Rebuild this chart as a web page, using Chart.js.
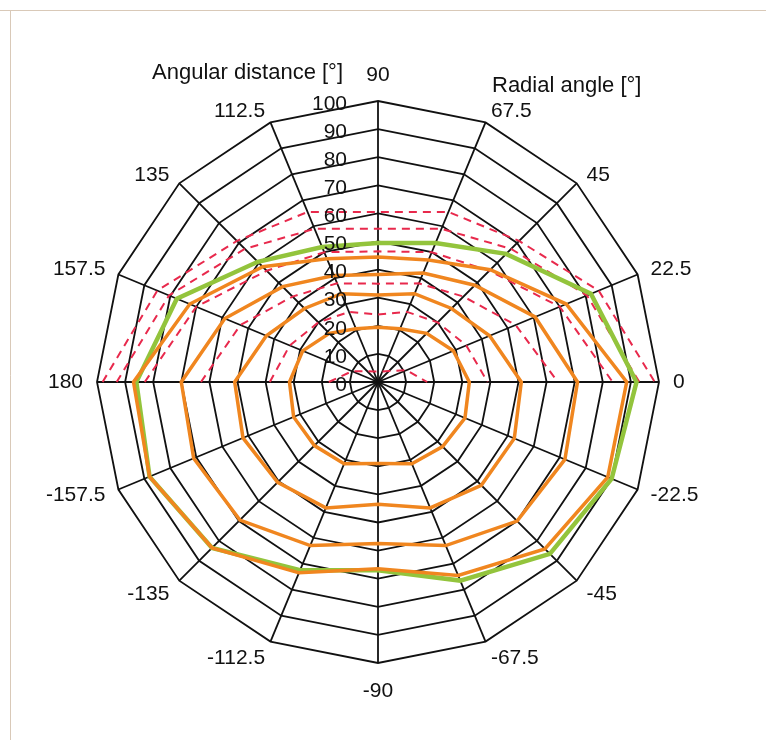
<!DOCTYPE html>
<html>
<head>
<meta charset="utf-8">
<script src="https://cdn.jsdelivr.net/npm/chart.js@4.4.0/dist/chart.umd.min.js"></script>
<style>
  html, body { margin: 0; padding: 0; background: #fff; }
  #wrap { width: 766px; height: 740px; }
</style>
</head>
<body>
<div id="wrap"><canvas id="polarChart" width="766" height="740"></canvas></div>
<script>
// spokes, clockwise from the top (radial angle in degrees)
const radialAngles = ['90', '67.5', '45', '22.5', '0', '-22.5', '-45', '-67.5', '-90',
                      '-112.5', '-135', '-157.5', '180', '157.5', '135', '112.5'];
const distanceTicks = [0, 10, 20, 30, 40, 50, 60, 70, 80, 90, 100];

// solid curves (angular distance per spoke)
const greenCurve = [49.5, 53.5, 64.5, 82, 92, 90, 86.5, 76.5, 67, 72.5, 83.5, 88, 86, 77.5, 60.5, 52];
const orange4 = [44.5, 47, 56.5, 72.5, 88.5, 88.5, 84, 74.5, 66.5, 73.5, 83.5, 88, 87, 72.5, 58, 47.5];
const orange3 = [38.3, 42, 48.7, 60.5, 71, 72, 70, 63, 57.5, 63, 69.5, 71, 70, 59, 48, 41];
const orange2 = [31, 34, 37, 43, 51, 52.5, 52, 48.5, 43.5, 48.5, 50.5, 52, 51, 43, 37, 34];
const orange1 = [19.5, 20.5, 24.5, 29, 32.5, 33.5, 32.5, 31.5, 29, 31.5, 32, 32.5, 31.5, 29, 24.5, 20.5];

// dashed curves, upper half only (null = not drawn)
const dashed6 = [60.5, 65.5, 71, 85, 98.5, null, null, null, null, null, null, null, 98, 85, 71, 65.5];
const dashed5 = [54.5, 59, 67, 80.5, 93, null, null, null, null, null, null, null, 93, 80.5, 67, 59];
const dashed4 = [46.5, 50, 56, 70, 83.5, null, null, null, null, null, null, null, 83, 70, 56, 50];
const dashed3 = [35, 38, 43, 53, 64, null, null, null, null, null, null, null, 63, 53, 43, 38];
const dashed2 = [24, 27, 30, 34, 39, null, null, null, null, null, null, null, 38.5, 34, 30, 27];
const dashed1 = [3.7, 4, 5.5, 11, 17.5, null, null, null, null, null, null, null, 17.5, 10, 5.5, 4];

const ORANGE = '#f0861f';
const GREEN = '#93c43c';
const RED = '#e8294c';

function solid(data, color, width) {
    return { data: data, borderColor: color, borderWidth: width, fill: false, pointRadius: 0, spanGaps: false };
}
function dashed(data) {
    return { data: data, borderColor: RED, borderWidth: 2, borderDash: [8, 6], fill: false, pointRadius: 0, spanGaps: false };
}

const labelPlugin = {
    id: 'polarLabels',
    afterDraw(chart) {
        const scale = chart.scales.r;
        const ctx = chart.ctx;
        ctx.save();

        // frame of the figure
        ctx.strokeStyle = '#d9c9b8';
        ctx.lineWidth = 1;
        ctx.beginPath();
        ctx.moveTo(0, 10.5);
        ctx.lineTo(766, 10.5);
        ctx.moveTo(10.5, 10.5);
        ctx.lineTo(10.5, 740);
        ctx.stroke();

        ctx.fillStyle = '#111';
        ctx.font = '21px "Liberation Sans", Arial, sans-serif';
        ctx.textBaseline = 'middle';

        // radial angle labels round the outside
        radialAngles.forEach((lab, i) => {
            const p = scale.getPointPosition(i, scale.drawingArea + 14);
            const dx = p.x - scale.xCenter;
            let y = p.y;
            if (Math.abs(dx) < 1) {
                ctx.textAlign = 'center';
                y += p.y < scale.yCenter ? -12 : 14;
            } else {
                ctx.textAlign = dx > 0 ? 'left' : 'right';
                if (p.y > scale.yCenter + 200) y += 4;
                if (p.y < scale.yCenter - 200) y += 2;
            }
            ctx.fillText(lab, p.x, y);
        });

        // angular distance ticks, left of the top spoke
        ctx.textAlign = 'right';
        distanceTicks.forEach(v => {
            const d = scale.getDistanceFromCenterForValue(v);
            ctx.fillText(String(v), scale.xCenter - 31, scale.yCenter - d + 3);
        });

        ctx.textAlign = 'left';
        ctx.font = '22px "Liberation Sans", Arial, sans-serif';
        ctx.fillText('Angular distance [°]', 152, 73);
        ctx.fillText('Radial angle [°]', 492, 86);
        ctx.restore();
    }
};

const ctx = document.getElementById('polarChart').getContext('2d');
new Chart(ctx, {
    type: 'radar',
    data: {
        labels: radialAngles,
        datasets: [
            solid(orange4, ORANGE, 3.5),
            solid(orange3, ORANGE, 3.5),
            solid(orange2, ORANGE, 3.5),
            solid(orange1, ORANGE, 3.5),
            solid(greenCurve, GREEN, 4.5),
            dashed(dashed6),
            dashed(dashed5),
            dashed(dashed4),
            dashed(dashed3),
            dashed(dashed2),
            dashed(dashed1)
        ]
    },
    options: {
        responsive: false,
        animation: false,
        layout: { padding: { left: 97, right: 107, top: 101, bottom: 77 } },
        plugins: {
            legend: { display: false },
            tooltip: { enabled: false }
        },
        elements: { line: { tension: 0 } },
        scales: {
            r: {
                min: 0,
                max: 100,
                ticks: { display: false, stepSize: 10 },
                pointLabels: { display: false },
                grid: { color: '#111', lineWidth: 1.8 },
                angleLines: { color: '#111', lineWidth: 1.8 }
            }
        }
    },
    plugins: [labelPlugin]
});
</script>
</body>
</html>
